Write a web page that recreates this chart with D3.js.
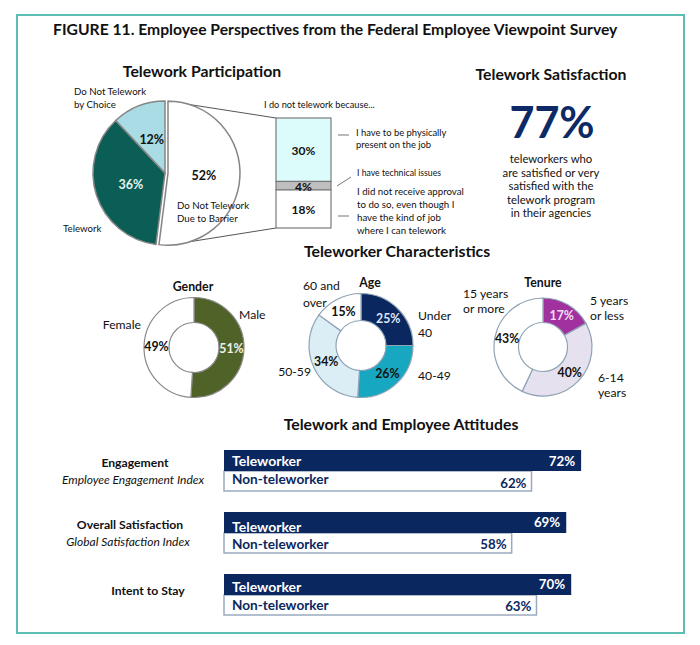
<!DOCTYPE html>
<html><head><meta charset="utf-8">
<script src="https://cdn.jsdelivr.net/npm/d3@7"></script>
<style>
body{margin:0;background:#fff;}
svg text{font-family:Lato,"Open Sans",sans-serif;}
</style></head>
<body><svg id="c" width="700" height="645"></svg>
<script>
// ---------- DATA ----------
const participationLabels = ["Do Not Telework Due to Barrier", "Telework", "Do Not Telework by Choice"];
const participationValues = [52, 36, 12];
const barrierLabels = ["I have to be physically present on the job", "I have technical issues", "I did not receive approval to do so, even though I have the kind of job where I can  telework"];
const barrierValues = [30, 4, 18];
const satisfactionValue = 77;
const genderLabels = ["Male", "Female"];
const genderValues = [51, 49];
const ageLabels = ["Under 40", "40-49", "50-59", "60 and over"];
const ageValues = [25, 26, 34, 15];
const tenureLabels = ["5 years or less", "6-14 years", "15 years or more"];
const tenureValues = [17, 40, 43];
const attitudeMeasures = ["Engagement", "Overall Satisfaction", "Intent to Stay"];
const attitudeSubtitles = ["Employee Engagement Index", "Global Satisfaction Index", ""];
const teleworkerValues = [72, 69, 70];
const nonTeleworkerValues = [62, 58, 63];

// ---------- SETUP ----------
const svg = d3.select("#c");
const navy = "#0b2760";
const grayStroke = "#858585";

svg.append("rect").attr("x", 17).attr("y", 15).attr("width", 667).attr("height", 618)
  .attr("fill", "none").attr("stroke", "#5bbdb3").attr("stroke-width", 2);

function txt(x, y, s, opts = {}) {
  const t = svg.append("text").attr("x", x).attr("y", y).text(s)
    .attr("font-size", opts.size || 11)
    .attr("font-weight", opts.bold ? "bold" : "normal")
    .attr("font-style", opts.italic ? "italic" : "normal")
    .attr("text-anchor", opts.anchor || "start")
    .attr("fill", opts.fill || "#111");
  return t;
}

txt(53, 35, "FIGURE 11. Employee Perspectives from the Federal Employee Viewpoint Survey", {size: 15.7, bold: true});

// ---------- TELEWORK PARTICIPATION ----------
txt(202, 77, "Telework Participation", {size: 15.8, bold: true, anchor: "middle"});
const pcx = 165, pcy = 173, pr = 72;
const pie = d3.pie().sort(null).value(d => d);
const pArcs = pie(participationValues);
const pArc = d3.arc().innerRadius(0).outerRadius(pr);
const pColors = ["#ffffff", "#0b5e55", "#a9dce4"];
const explode = 3;

const barY = d3.scaleLinear().domain([0, d3.sum(barrierValues)]).range([118, 228]);
const barX0 = 276, barW = 55;

const wa = pArcs[0];
const offX = explode * Math.sin((wa.startAngle + wa.endAngle) / 2);
const offY = -explode * Math.cos((wa.startAngle + wa.endAngle) / 2);
const pTop = [pcx + offX + pr * Math.sin(wa.startAngle), pcy + offY - pr * Math.cos(wa.startAngle)];
const pBot = [pcx + offX + pr * Math.sin(Math.PI), pcy + offY - pr * Math.cos(Math.PI)];
svg.append("line").attr("x1", pTop[0]).attr("y1", pTop[1]).attr("x2", barX0).attr("y2", barY(0))
  .attr("stroke", "#555").attr("stroke-width", 1);
svg.append("line").attr("x1", pBot[0]).attr("y1", pBot[1]).attr("x2", barX0).attr("y2", barY(d3.sum(barrierValues)))
  .attr("stroke", "#555").attr("stroke-width", 1);

const pg = svg.append("g").attr("transform", `translate(${pcx},${pcy})`);
pg.selectAll("path").data(pArcs).join("path")
  .attr("d", pArc)
  .attr("transform", (d, i) => i === 0 ? `translate(${offX},${offY})` : null)
  .attr("fill", (d, i) => pColors[i])
  .attr("stroke", grayStroke).attr("stroke-width", 1.5);
pg.selectAll("text.pct").data(pArcs).join("text").attr("class", "pct")
  .attr("x", (d, i) => pArc.centroid(d)[0] + (i === 0 ? offX : 0))
  .attr("y", (d, i) => pArc.centroid(d)[1] + (i === 0 ? offY : 0))
  .attr("text-anchor", "middle").attr("dominant-baseline", "central")
  .attr("font-size", 12.5).attr("font-weight", "bold")
  .attr("fill", (d, i) => i === 1 ? "#e8f2f0" : "#111")
  .text(d => d.data + "%");

txt(74, 95, "Do Not Telework", {size: 9.7});
txt(74, 108, "by Choice", {size: 9.7});
txt(63, 232, "Telework", {size: 9.7});
txt(177, 209, "Do Not Telework", {size: 9.7});
txt(177, 222, "Due to Barrier", {size: 9.7});

// stacked bar
txt(264, 108, "I do not telework because...", {size: 9.2});
const bColors = ["#dcfcfc", "#bfbfbf", "#ffffff"];
let cum = 0;
const bStack = barrierValues.map(v => { const s = {y0: cum, y1: cum + v, v}; cum += v; return s; });
svg.selectAll("rect.bar").data(bStack).join("rect").attr("class", "bar")
  .attr("x", barX0).attr("width", barW)
  .attr("y", d => barY(d.y0)).attr("height", d => barY(d.y1) - barY(d.y0))
  .attr("fill", (d, i) => bColors[i]).attr("stroke", "#7a7a7a").attr("stroke-width", 1.2);
svg.selectAll("text.bl").data(bStack).join("text").attr("class", "bl")
  .attr("x", barX0 + barW / 2).attr("y", d => (barY(d.y0) + barY(d.y1)) / 2 + 0.5)
  .attr("text-anchor", "middle").attr("dominant-baseline", "central")
  .attr("font-size", 12).attr("font-weight", "bold").attr("fill", "#111")
  .text(d => d.v + "%");

const lineC = "#777";
svg.append("line").attr("x1", 338).attr("x2", 349).attr("y1", 135).attr("y2", 135).attr("stroke", lineC);
txt(356, 136, "I have to be physically", {size: 9.4});
txt(356, 148, "present on the job", {size: 9.4});
svg.append("line").attr("x1", 337).attr("y1", 186).attr("x2", 351).attr("y2", 177).attr("stroke", lineC);
txt(357, 176, "I have technical issues", {size: 8.7});
svg.append("line").attr("x1", 338).attr("x2", 349).attr("y1", 216).attr("y2", 216).attr("stroke", lineC);
["I did not receive approval", "to do so, even though I", "have the kind of job", "where I can  telework"].forEach((s, i) =>
  txt(357, 195 + i * 13, s, {size: 9.7}));

// ---------- TELEWORK SATISFACTION ----------
txt(551, 80, "Telework Satisfaction", {size: 15.8, bold: true, anchor: "middle"});
txt(552, 138, satisfactionValue + "%", {size: 43, bold: true, anchor: "middle", fill: "#0d2a66"});
["teleworkers who", "are satisfied or very", "satisfied with the", "telework program", "in their agencies"].forEach((s, i) =>
  txt(551, 163 + i * 13.6, s, {size: 11.3, anchor: "middle"}));

// ---------- TELEWORKER CHARACTERISTICS ----------
txt(397, 257, "Teleworker Characteristics", {size: 15.8, bold: true, anchor: "middle"});

function donut(cx, cy, rOut, rIn, values, colors, textColors, stroke) {
  const arcs = d3.pie().sort(null)(values);
  const arc = d3.arc().innerRadius(rIn).outerRadius(rOut);
  const g = svg.append("g").attr("transform", `translate(${cx},${cy})`);
  g.selectAll("path").data(arcs).join("path").attr("d", arc)
    .attr("fill", (d, i) => colors[i]).attr("stroke", stroke).attr("stroke-width", 1.2);
  g.selectAll("text").data(arcs).join("text")
    .attr("x", d => arc.centroid(d)[0]).attr("y", d => arc.centroid(d)[1])
    .attr("text-anchor", "middle").attr("dominant-baseline", "central")
    .attr("font-size", 12.3).attr("font-weight", "bold")
    .attr("fill", (d, i) => textColors[i]).text(d => d.data + "%");
}

const lblSize = 12.2;
// Gender
txt(193, 291, "Gender", {size: 12.3, bold: true, anchor: "middle"});
donut(194, 347.5, 50, 25, genderValues, ["#4f6228", "#ffffff"], ["#eef2e6", "#111"], "#8a8a8a");
txt(239, 319, genderLabels[0], {size: lblSize});
txt(141, 329, genderLabels[1], {size: lblSize, anchor: "end"});

// Age
txt(370, 287, "Age", {size: 12.3, bold: true, anchor: "middle"});
donut(361, 345.5, 52, 25, ageValues, ["#0b2760", "#17a7c0", "#dbeef5", "#ffffff"], ["#dfe6f5", "#111", "#111", "#111"], "#8fa3b5");
txt(418, 320, "Under", {size: lblSize});
txt(418, 337, "40", {size: lblSize});
txt(418, 380, ageLabels[1], {size: lblSize});
txt(311, 376, ageLabels[2], {size: lblSize, anchor: "end"});
txt(303, 290, "60 and", {size: lblSize});
txt(303, 307, "over", {size: lblSize});

// Tenure
txt(543, 287, "Tenure", {size: 12.3, bold: true, anchor: "middle"});
donut(543, 347, 49, 24.5, tenureValues, ["#a0319f", "#e5e1ef", "#ffffff"], ["#f3dff3", "#111", "#111"], "#8fa3b5");
txt(590, 305, "5 years", {size: lblSize});
txt(590, 320, "or less", {size: lblSize});
txt(598, 382, "6-14", {size: lblSize});
txt(598, 397, "years", {size: lblSize});
txt(463, 298, "15 years", {size: lblSize});
txt(463, 313, "or more", {size: lblSize});

// ---------- ATTITUDES ----------
txt(401, 430, "Telework and Employee Attitudes", {size: 15.8, bold: true, anchor: "middle"});
const xBar = d3.scaleLinear().domain([0, 100]).range([224, 720]);
const groupY = d3.scalePoint().domain(attitudeMeasures).range([450, 574]);
const bh = 21;
// per-group text baseline offsets (layout)
const teleTextDy = [16, 20, 18], telePctDy = [16, 15, 15];
const nonTextDy = [13, 16, 15], nonPctDy = [17, 16, 16];
const labelX = [135, 130, 148];

attitudeMeasures.forEach((m, i) => {
  const y0 = groupY(m);
  svg.append("rect").attr("x", xBar(0)).attr("y", y0 + bh).attr("width", xBar(nonTeleworkerValues[i]) - xBar(0))
    .attr("height", bh - 1).attr("fill", "#fff").attr("stroke", "#9aaabf").attr("stroke-width", 1.5);
  svg.append("rect").attr("x", xBar(0)).attr("y", y0).attr("width", xBar(teleworkerValues[i]) - xBar(0))
    .attr("height", bh).attr("fill", navy);
  txt(xBar(0) + 8, y0 + teleTextDy[i], "Teleworker", {size: 14, bold: true, fill: "#fff"});
  txt(xBar(teleworkerValues[i]) - 6, y0 + telePctDy[i], teleworkerValues[i] + "%", {size: 13.3, bold: true, fill: "#fff", anchor: "end"});
  txt(xBar(0) + 8, y0 + bh + nonTextDy[i], "Non-teleworker", {size: 13.6, bold: true, fill: navy});
  txt(xBar(nonTeleworkerValues[i]) - 5, y0 + bh + nonPctDy[i], nonTeleworkerValues[i] + "%", {size: 13.3, bold: true, fill: navy, anchor: "end"});
  if (attitudeSubtitles[i]) {
    txt(labelX[i], y0 + 17, m, {size: 12.2, bold: true, anchor: "middle"});
    txt(labelX[i] - 2, y0 + 34, attitudeSubtitles[i], {size: 12, italic: true, anchor: "middle"});
  } else {
    txt(labelX[i], y0 + 21, m, {size: 12.2, bold: true, anchor: "middle"});
  }
});
</script></body></html>
